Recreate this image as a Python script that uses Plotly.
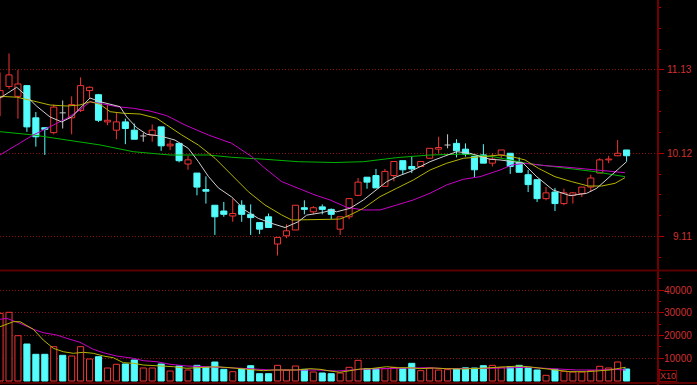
import plotly.graph_objects as go

# ---------------- data ----------------
opens = [10.80, 10.93, 10.81, 10.94, 10.55, 10.43, 10.37, 10.61, 10.55, 10.64,
         10.88, 10.83, 10.50, 10.40, 10.50, 10.40, 10.33, 10.34, 10.44, 10.21,
         10.24, 9.99, 9.88, 9.68, 9.49, 9.42, 9.36, 9.49, 9.38, 9.28,
         9.35, 9.02, 9.12, 9.19, 9.46, 9.41, 9.47, 9.44, 9.20, 9.35,
         9.61, 9.83, 9.85, 9.72, 9.85, 10.03, 9.96, 9.96, 10.06, 10.17,
         10.22, 10.24, 10.17, 10.08, 10.10, 10.00, 10.10, 10.12, 10.01, 9.86,
         9.80, 9.57, 9.65, 9.51, 9.61, 9.63, 9.71, 9.88, 10.04, 10.09, 10.16]
highs = [11.10, 11.33, 11.13, 10.94, 10.62, 10.43, 10.71, 10.76, 10.81, 11.04,
         10.93, 10.84, 10.71, 10.62, 10.54, 10.48, 10.37, 10.47, 10.44, 10.28,
         10.24, 10.09, 9.88, 9.84, 9.49, 9.53, 9.57, 9.55, 9.50, 9.28,
         9.39, 9.10, 9.26, 9.49, 9.55, 9.48, 9.50, 9.45, 9.35, 9.57,
         9.82, 9.83, 9.93, 9.93, 10.02, 10.03, 10.08, 10.02, 10.18, 10.32,
         10.35, 10.29, 10.24, 10.08, 10.23, 10.12, 10.16, 10.12, 10.07, 9.92,
         9.80, 9.71, 9.70, 9.69, 9.65, 9.71, 9.86, 10.06, 10.09, 10.28, 10.16]
lows = [10.57, 10.90, 10.54, 10.38, 10.20, 10.10, 10.35, 10.42, 10.35, 10.62,
        10.78, 10.50, 10.46, 10.29, 10.23, 10.29, 10.26, 10.26, 10.15, 10.16,
        10.01, 9.92, 9.61, 9.51, 9.13, 9.35, 9.29, 9.29, 9.13, 9.14,
        9.22, 8.88, 9.09, 9.19, 9.38, 9.38, 9.38, 9.32, 9.13, 9.32,
        9.60, 9.69, 9.70, 9.72, 9.78, 9.86, 9.88, 9.96, 10.06, 10.12,
        10.18, 10.07, 10.08, 9.83, 10.00, 9.96, 10.06, 9.87, 9.89, 9.65,
        9.53, 9.55, 9.42, 9.49, 9.51, 9.59, 9.65, 9.88, 10.00, 10.09, 10.02]
closes = [10.88, 11.07, 10.96, 10.44, 10.32, 10.41, 10.68, 10.61, 10.71, 10.94,
          10.92, 10.52, 10.52, 10.50, 10.42, 10.29, 10.33, 10.40, 10.21, 10.23,
          10.03, 10.04, 9.71, 9.66, 9.35, 9.38, 9.39, 9.38, 9.34, 9.20,
          9.22, 9.10, 9.18, 9.49, 9.44, 9.46, 9.44, 9.38, 9.35, 9.57,
          9.77, 9.77, 9.70, 9.90, 10.02, 9.92, 9.93, 10.02, 10.18, 10.19,
          10.22, 10.15, 10.11, 9.92, 10.00, 10.05, 10.16, 9.96, 9.89, 9.74,
          9.57, 9.64, 9.51, 9.64, 9.64, 9.71, 9.82, 10.04, 10.05, 10.12, 10.09]
volumes = [29800, 30260, 19950, 16300, 11760, 11760, 15110, 11320, 11010, 15110,
           9690, 10700, 5730, 7360, 7490, 9250, 5730, 5730, 7490, 4400,
           6610, 4850, 6900, 6030, 8370, 5140, 4100, 5420, 6740, 3220,
           3220, 6900, 4700, 6610, 5140, 3960, 3520, 3220, 3520, 6030,
           9100, 5420, 5420, 5420, 6030, 5420, 7790, 4550, 5730, 4850,
           5000, 5290, 5800, 5730, 6740, 6900, 6030, 6320, 6900, 6030,
           4850, 2500, 5140, 4270, 3960, 3960, 4550, 6470, 5730, 8370, 5290]

# moving-average lines (position in candle index, value)
ma5_pos = [0, 1.86, 2.79, 4.1, 5.58, 6.89, 8.0, 8.93, 10.05, 11.17, 12.3, 13.4, 14.15, 15.27,
           16.4, 17.87, 19.55, 21.03, 22.15, 23.27, 24.39, 25.88, 27.37, 28.86, 30.35, 31.84,
           33.32, 34.26, 35.94, 37.0, 37.6, 39.1, 40.6, 42.08, 43.2, 44.32, 45.8, 46.92, 48.04,
           49.52, 51.02, 52.5, 53.62, 54.74, 55.86, 58.43, 59.96, 61.78, 63.68, 65.55, 66.67,
           68.15, 70.0]
ma5_val = [10.79, 10.92, 10.83, 10.69, 10.56, 10.50, 10.56, 10.66, 10.79, 10.745, 10.71, 10.685,
           10.56, 10.43, 10.35, 10.33, 10.28, 10.18, 10.02, 9.84, 9.70, 9.59, 9.43, 9.33, 9.27,
           9.22, 9.29, 9.37, 9.40, 9.43, 9.41, 9.453, 9.554, 9.675, 9.776, 9.836, 9.897, 9.957,
           10.018, 10.079, 10.139, 10.12, 10.079, 10.047, 10.039, 10.002, 9.836, 9.675, 9.606,
           9.635, 9.696, 9.836, 10.018]

ma10_pos = [0, 1.86, 3.72, 5.58, 7.45, 8.93, 10.05, 11.17, 12.3, 13.77, 15.64, 17.5, 18.62,
            20.3, 22.15, 24.02, 25.88, 27.74, 29.6, 31.47, 32.59, 34.07, 37.05, 37.98, 39.1,
            40.6, 42.45, 44.32, 46.17, 48.04, 49.9, 51.76, 53.62, 55.86, 57.17, 58.65, 60.14,
            62.0, 63.87, 65.73, 67.22, 68.71, 69.82]
ma10_val = [10.81, 10.80, 10.754, 10.705, 10.693, 10.705, 10.745, 10.714, 10.624, 10.605,
            10.596, 10.544, 10.463, 10.342, 10.22, 10.059, 9.857, 9.654, 9.493, 9.372, 9.311,
            9.311, 9.32, 9.323, 9.372, 9.453, 9.594, 9.696, 9.796, 9.917, 9.999, 10.059,
            10.079, 10.099, 10.079, 10.039, 9.938, 9.836, 9.776, 9.723, 9.723, 9.756, 9.824]

ma20_pos = [0, 1.86, 3.72, 5.58, 7.45, 8.93, 10.05, 11.17, 13.03, 14.89, 16.75, 18.62, 20.66,
            23.27, 25.88, 28.12, 29.6, 31.47, 33.32, 35.19, 36.87, 38.73, 40.6, 42.45, 44.32,
            46.17, 48.04, 49.9, 51.76, 53.62, 55.86, 57.17, 58.65, 60.88, 62.75, 64.61, 66.47,
            68.34, 69.82]
ma20_val = [10.10, 10.22, 10.342, 10.442, 10.544, 10.645, 10.745, 10.725, 10.685, 10.665,
            10.632, 10.576, 10.463, 10.342, 10.241, 10.079, 9.938, 9.776, 9.696, 9.614, 9.554,
            9.465, 9.433, 9.433, 9.493, 9.554, 9.635, 9.736, 9.805, 9.836, 9.917, 9.978, 9.999,
            9.97, 9.957, 9.938, 9.917, 9.897, 9.885]

ma60_pos = [0, 3.72, 7.45, 11.17, 14.89, 18.99, 23.27, 25.88, 29.6, 33.32, 37.42, 40.6, 44.32,
            48.04, 51.76, 55.3, 59.02, 62.75, 66.47, 69.82]
ma60_val = [10.382, 10.342, 10.281, 10.221, 10.139, 10.099, 10.099, 10.071, 10.047, 10.018,
            10.008, 10.018, 10.067, 10.099, 10.11, 10.075, 9.995, 9.945, 9.897, 9.836]

vma5_pos = [0, 1.48, 2.23, 3.72, 4.83, 5.95, 7.07, 8.18, 9.3, 10.42, 11.54, 12.65, 13.77,
            14.89, 16.0, 17.5, 19.36, 20.85, 22.34, 24.2, 25.69, 27.18, 29.41, 30.53, 33.15,
            34.63, 35.75, 36.87, 37.98, 39.1, 40.22, 41.34, 42.45, 43.2, 44.32, 45.8, 46.92,
            48.41, 49.9, 51.76, 53.62, 55.11, 56.61, 58.09, 59.58, 61.08, 62.56, 63.68, 65.55,
            67.03, 68.15, 68.9, 69.9]
vma5_val = [23920, 26120, 26120, 22770, 18060, 14400, 12900, 12200, 12640, 12200, 11010, 10260,
            8060, 7800, 7050, 6740, 6300, 5590, 6030, 6300, 5860, 5420, 4540, 4850, 4850, 5420,
            5150, 4410, 3830, 4540, 5290, 5420, 6030, 6300, 5860, 5860, 5420, 5730, 5420, 5290,
            5590, 6030, 6300, 6610, 6030, 5420, 4540, 4100, 4100, 4410, 4850, 5420, 6030]

vma10_pos = [0, 0.74, 2.23, 3.72, 4.83, 6.33, 7.45, 8.93, 10.42, 11.54, 13.03, 14.89, 16.0,
             17.5, 18.99, 20.85, 23.09, 25.32, 26.81, 27.93, 30.16, 33.15, 35.38, 37.61, 39.1,
             40.59, 42.45, 45.05, 47.67, 49.9, 52.36, 55.11, 58.84, 60.7, 62.56, 64.43, 67.03,
             68.52, 69.9]
vma10_val = [27180, 27620, 25420, 22770, 21280, 20260, 18810, 17050, 13960, 12460, 11010,
             10000, 8940, 8500, 7360, 6610, 6300, 6030, 5860, 5420, 4850, 4850, 4850, 4410,
             4850, 5150, 5420, 5730, 5860, 5420, 5420, 5590, 6030, 5590, 5290, 4850, 4850,
             5150, 4850]

price_ticks = [9.11, 10.12, 11.13]
price_tick_text = ["9.11", "10.12", "11.13"]
vol_ticks = [10000, 20000, 30000, 40000]
vol_tick_text = ["10000", "20000", "30000", "40000"]
vol_unit = "X10"

# ---------------- styling ----------------
RED = "#f03434"
CYAN = "#54fcfc"
DOJI = "#c8c8c8"
BG = "#000000"
GRID = "#8c1010"
AXIS_RED = "#b00000"
LABEL_RED = "#d03030"
BODY_W = 0.68
MA_W = 1.0

n = len(closes)
idx = list(range(n))

def direction(i):
    if closes[i] > opens[i]:
        return 1
    if closes[i] < opens[i]:
        return -1
    prev = closes[i - 1] if i > 0 else closes[i]
    return 1 if closes[i] >= prev else -1

dirs = [direction(i) for i in idx]

fig = go.Figure()

# candle bodies
up_i = [i for i in idx if closes[i] > opens[i]]
dn_i = [i for i in idx if closes[i] < opens[i]]
doji_i = [i for i in idx if closes[i] == opens[i]]

fig.add_trace(go.Bar(x=up_i, y=[closes[i] - opens[i] for i in up_i], base=[opens[i] for i in up_i],
                     width=BODY_W, marker=dict(color=BG, line=dict(color=RED, width=1)),
                     xaxis="x", yaxis="y"))
fig.add_trace(go.Bar(x=dn_i, y=[opens[i] - closes[i] for i in dn_i], base=[closes[i] for i in dn_i],
                     width=BODY_W, marker=dict(color=CYAN, line=dict(color=CYAN, width=1)),
                     xaxis="x", yaxis="y"))

def wick_segments(ids):
    xs, ys = [], []
    for i in ids:
        top = max(opens[i], closes[i])
        bot = min(opens[i], closes[i])
        if highs[i] > top:
            xs += [i, i, None]
            ys += [top, highs[i], None]
        if lows[i] < bot:
            xs += [i, i, None]
            ys += [bot, lows[i], None]
    return xs, ys

for ids, col in [(up_i, RED), (dn_i, CYAN)]:
    wx, wy = wick_segments(ids)
    fig.add_trace(go.Scatter(x=wx, y=wy, mode="lines", line=dict(color=col, width=1),
                             xaxis="x", yaxis="y"))

dx, dy = [], []
for i in doji_i:
    dx += [i, i, None, i - BODY_W / 2, i + BODY_W / 2, None]
    dy += [lows[i], highs[i], None, opens[i], opens[i], None]
fig.add_trace(go.Scatter(x=dx, y=dy, mode="lines", line=dict(color=DOJI, width=1),
                         xaxis="x", yaxis="y"))

# moving averages (price)
for pos, val, col in [(ma60_pos, ma60_val, "#00b400"), (ma20_pos, ma20_val, "#c800c8"),
                      (ma10_pos, ma10_val, "#b4b400"), (ma5_pos, ma5_val, "#d0d0d0")]:
    fig.add_trace(go.Scatter(x=pos, y=val, mode="lines", line=dict(color=col, width=MA_W),
                             xaxis="x", yaxis="y"))

# volume bars
vu = [i for i in idx if dirs[i] > 0]
vd = [i for i in idx if dirs[i] < 0]
fig.add_trace(go.Bar(x=vu, y=[volumes[i] for i in vu], width=BODY_W,
                     marker=dict(color=BG, line=dict(color=RED, width=1)), xaxis="x", yaxis="y2"))
fig.add_trace(go.Bar(x=vd, y=[volumes[i] for i in vd], width=BODY_W,
                     marker=dict(color=CYAN, line=dict(color=CYAN, width=1)), xaxis="x", yaxis="y2"))
for pos, val, col in [(vma10_pos, vma10_val, "#c800c8"), (vma5_pos, vma5_val, "#b4b400")]:
    fig.add_trace(go.Scatter(x=pos, y=val, mode="lines", line=dict(color=col, width=MA_W),
                             xaxis="x", yaxis="y2"))

W, H = 697, 385
ML, MR, MT, MB = 0, 39, 0, 2
PW = W - ML - MR           # 658
PH = H - MT - MB           # 383

def py(pix):  # pixel row -> paper y
    return (PH - pix) / PH

def px(pix):  # pixel column -> paper x
    return pix / PW

axis_common = dict(side="right", showline=False, zeroline=False, showticklabels=False,
                   ticks="outside", ticklen=5, tickcolor=AXIS_RED, tickwidth=1,
                   showgrid=True, gridcolor=GRID, gridwidth=1, griddash="1px,2px",
                   fixedrange=True)

fig.update_layout(
    width=W, height=H, margin=dict(l=ML, r=MR, t=MT, b=MB, pad=0),
    paper_bgcolor=BG, plot_bgcolor=BG, showlegend=False, hovermode=False,
    barmode="overlay",
    xaxis=dict(range=[-0.0056, 73.51], visible=False, fixedrange=True),
    yaxis=dict(domain=[py(270), 1], range=[8.705, 11.978], tickvals=price_ticks,
               minor=dict(ticks="outside", ticklen=2, tickcolor=AXIS_RED, dtick=0.2525,
                          tick0=9.11, showgrid=False),
               **axis_common),
    yaxis2=dict(domain=[0, py(271)], range=[-881, 48455], tickvals=vol_ticks, anchor="x",
                minor=dict(ticks="outside", ticklen=2, tickcolor=AXIS_RED, dtick=5000,
                           tick0=0, showgrid=False),
                **axis_common),
)

shapes = [
    dict(type="line", xref="paper", yref="paper", x0=1, x1=1, y0=-0.02, y1=1.02,
         line=dict(color=AXIS_RED, width=1.3)),
    dict(type="line", xref="paper", yref="paper", x0=0, x1=px(W), y0=py(270.5), y1=py(270.5),
         line=dict(color="#5a0000", width=2)),
    dict(type="line", xref="paper", yref="paper", x0=0, x1=px(W), y0=py(383), y1=py(383),
         line=dict(color="#5a0000", width=2)),
]
fig.update_layout(shapes=shapes)

ann = []
for v, t in zip(price_ticks, price_tick_text):
    ann.append(dict(xref="paper", yref="y", x=px(694), y=v, text=t, showarrow=False,
                    xanchor="right", yanchor="middle",
                    font=dict(family="Liberation Sans, Arial, sans-serif", size=10, color=LABEL_RED)))
for v, t in zip(vol_ticks, vol_tick_text):
    ann.append(dict(xref="paper", yref="y2", x=px(694), y=v, text=t, showarrow=False,
                    xanchor="right", yanchor="middle",
                    font=dict(family="Liberation Sans, Arial, sans-serif", size=10, color=LABEL_RED)))
ann.append(dict(xref="paper", yref="paper", x=px(668), y=py(375.5), text=vol_unit, showarrow=False,
                xanchor="center", yanchor="middle", bordercolor="#800000", borderwidth=1, borderpad=0,
                font=dict(family="Liberation Sans, Arial, sans-serif", size=9, color=LABEL_RED)))
fig.update_layout(annotations=ann)

fig.write_html("out.html", config={"staticPlot": True, "displayModeBar": False},
               post_script="document.body.style.margin='0';document.body.style.padding='0';"
                           "document.body.style.overflow='hidden';")
